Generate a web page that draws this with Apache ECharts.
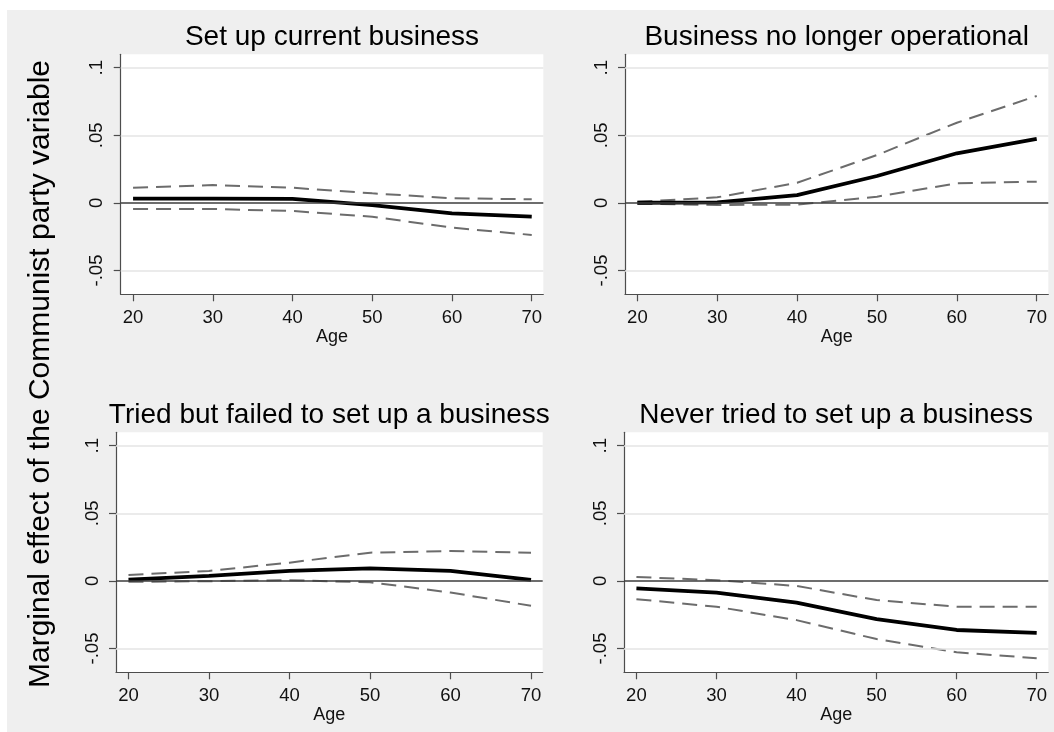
<!DOCTYPE html>
<html>
<head>
<meta charset="utf-8">
<title>Marginal effect of the Communist party variable by age</title>
<script src="https://cdn.jsdelivr.net/npm/echarts@6/dist/echarts.min.js"></script>
<style>
  html, body { margin: 0; padding: 0; background: #ffffff; }
  #chart { width: 1054px; height: 732px; }
</style>
</head>
<body>
<div id="chart"></div>
<script>
// Ages at which the margins were evaluated
const ages = [20, 30, 40, 50, 60, 70];

// Set up current business
const setupEst = [0.0031, 0.0031, 0.0030, -0.0016, -0.0077, -0.0102];
const setupHi  = [0.0112, 0.0132, 0.0112, 0.0071, 0.0034, 0.0027];
const setupLo  = [-0.0045, -0.0045, -0.0060, -0.0102, -0.0183, -0.0237];

// Business no longer operational
const closedEst = [0.0001, 0.0004, 0.0058, 0.0199, 0.0367, 0.0473];
const closedHi  = [0.0008, 0.0041, 0.0149, 0.0354, 0.0593, 0.0791];
const closedLo  = [-0.0006, -0.0015, -0.0013, 0.0046, 0.0145, 0.0157];

// Tried but failed to set up a business
const failedEst = [0.0010, 0.0037, 0.0074, 0.0093, 0.0074, 0.0007];
const failedHi  = [0.0044, 0.0074, 0.0135, 0.0209, 0.0221, 0.0209];
const failedLo  = [-0.0007, -0.0002, 0.0005, -0.0010, -0.0086, -0.0184];

// Never tried to set up a business
const neverEst = [-0.0056, -0.0086, -0.0160, -0.0282, -0.0363, -0.0385];
const neverHi  = [0.0029, 0.0005, -0.0037, -0.0142, -0.0191, -0.0191];
const neverLo  = [-0.0135, -0.0191, -0.0290, -0.0430, -0.0528, -0.0572];

// Tick positions and their labels
const xTicks = [20, 30, 40, 50, 60, 70];
const yTicks = [-0.05, 0, 0.05, 0.1];
const yTickLabels = ['-.05', '0', '.05', '.1'];

const panelTitles = [
  'Set up current business',
  'Business no longer operational',
  'Tried but failed to set up a business',
  'Never tried to set up a business'
];
const yTitle = 'Marginal effect of the Communist party variable';
const xTitle = 'Age';

const panels = [
  { est: setupEst,  hi: setupHi,  lo: setupLo  },
  { est: closedEst, hi: closedHi, lo: closedLo },
  { est: failedEst, hi: failedHi, lo: failedLo },
  { est: neverEst,  hi: neverHi,  lo: neverLo  }
];

// Plot regions (px) of the 2x2 layout
const grids = [
  { left: 120.7, top: 54.3,  width: 422.6, height: 240 },
  { left: 625,   top: 54.3,  width: 423.3, height: 240 },
  { left: 116,   top: 432.3, width: 426.7, height: 240 },
  { left: 624,   top: 432.3, width: 424.3, height: 240 }
];

const FONT = '"Liberation Sans", Arial, Helvetica, sans-serif';
const AXIS_COLOR = '#4d4d4d';
const CI_COLOR = '#6c6c6c';

const pairs = (vals) => ages.map((a, i) => [a, vals[i]]);

const xAxes = grids.map((g, i) => ({
  type: 'value',
  gridIndex: i,
  min: 18.45,
  max: 71.45,
  name: xTitle,
  nameLocation: 'middle',
  nameGap: 33,
  nameTextStyle: { fontFamily: FONT, fontSize: 18, color: '#111' },
  axisLine: { show: true, onZero: false, lineStyle: { color: AXIS_COLOR, width: 1.2 } },
  axisTick: { show: true, length: 7, customValues: xTicks, lineStyle: { color: AXIS_COLOR, width: 1.2 } },
  axisLabel: { customValues: xTicks, margin: 14, fontFamily: FONT, fontSize: 18.5, color: '#111' },
  splitLine: { show: false }
}));

const yAxes = grids.map((g, i) => ({
  type: 'value',
  gridIndex: i,
  min: -0.0676,
  max: 0.1099,
  axisLine: { show: true, onZero: false, lineStyle: { color: AXIS_COLOR, width: 1.2 } },
  axisTick: { show: true, length: 7, customValues: yTicks, lineStyle: { color: AXIS_COLOR, width: 1.2 } },
  axisLabel: {
    customValues: yTicks,
    rotate: 90,
    margin: 14,
    fontFamily: FONT,
    fontSize: 18.5,
    color: '#111',
    formatter: (v) => {
      const k = yTicks.findIndex((t) => Math.abs(t - v) < 1e-9);
      return k >= 0 ? yTickLabels[k] : '';
    }
  },
  splitLine: { show: false }
}));

const series = [];
panels.forEach((p, i) => {
  // Reference lines: light gridlines at the ticks, dark line at zero
  series.push({
    type: 'line',
    xAxisIndex: i,
    yAxisIndex: i,
    data: [],
    silent: true,
    z: 1,
    markLine: {
      silent: true,
      symbol: ['none', 'none'],
      label: { show: false },
      animation: false,
      data: [
        { yAxis: 0.1,   lineStyle: { color: '#e4e4e4', width: 1.5, type: 'solid' } },
        { yAxis: 0.05,  lineStyle: { color: '#e4e4e4', width: 1.5, type: 'solid' } },
        { yAxis: -0.05, lineStyle: { color: '#e4e4e4', width: 1.5, type: 'solid' } },
        { yAxis: 0,     lineStyle: { color: '#3c3c3c', width: 1.6, type: 'solid' } }
      ]
    }
  });
  [p.hi, p.lo].forEach((band) => {
    series.push({
      type: 'line',
      xAxisIndex: i,
      yAxisIndex: i,
      data: pairs(band),
      symbol: 'none',
      silent: true,
      z: 2,
      lineStyle: { color: CI_COLOR, width: 2, type: [15, 8] }
    });
  });
  series.push({
    type: 'line',
    xAxisIndex: i,
    yAxisIndex: i,
    data: pairs(p.est),
    symbol: 'none',
    silent: true,
    z: 3,
    lineStyle: { color: '#000000', width: 3.8 }
  });
});

const graphic = [
  // Outer grey background
  { type: 'rect', z: -10, silent: true, shape: { x: 7, y: 10, width: 1047, height: 722 }, style: { fill: '#efefef' } },
  // Plot region backgrounds
  ...grids.map((g) => ({
    type: 'rect', z: -9, silent: true,
    shape: { x: g.left, y: g.top, width: g.width, height: g.height },
    style: { fill: '#ffffff' }
  })),
  // Panel titles
  ...grids.map((g, i) => ({
    type: 'text', z: 5, silent: true,
    x: g.left + g.width / 2,
    y: g.top - 31,
    style: {
      text: panelTitles[i],
      font: '28px ' + FONT,
      fill: '#000',
      align: 'center',
      verticalAlign: 'top'
    }
  })),
  // Common y-axis title
  {
    type: 'text', z: 5, silent: true,
    x: 41, y: 374,
    rotation: Math.PI / 2,
    style: {
      text: yTitle,
      font: '30px ' + FONT,
      fill: '#000',
      align: 'center',
      verticalAlign: 'middle'
    }
  }
];

const chart = echarts.init(document.getElementById('chart'), null, { renderer: 'canvas', width: 1054, height: 732 });
chart.setOption({
  animation: false,
  backgroundColor: '#ffffff',
  grid: grids.map((g) => ({ left: g.left, top: g.top, width: g.width, height: g.height, containLabel: false })),
  xAxis: xAxes,
  yAxis: yAxes,
  series: series,
  graphic: graphic
});
</script>
</body>
</html>
